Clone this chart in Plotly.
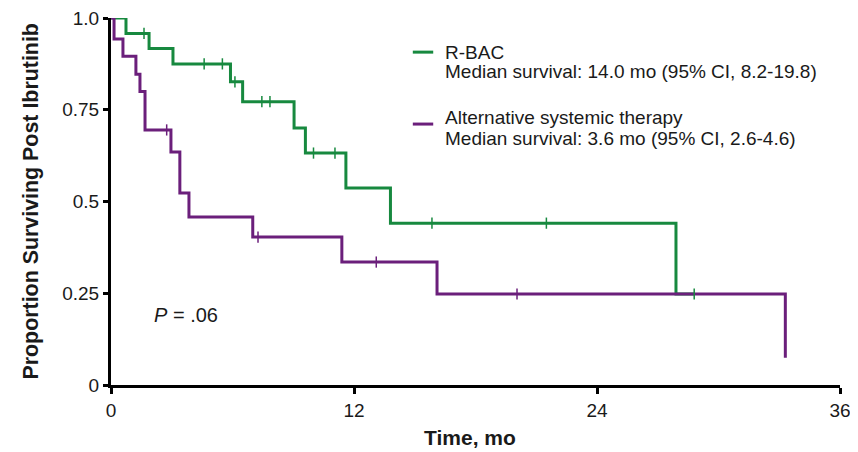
import numpy as np
import plotly.graph_objects as go

# ---- data ----
rbac_times = [0, 0.74, 1.88, 3.06, 5.9, 6.5, 9.04, 9.6, 11.6, 13.8, 27.9, 28.8]
rbac_surv = [1.0, 0.958, 0.917, 0.875, 0.826, 0.772, 0.70, 0.632, 0.537, 0.441, 0.248, 0.248]
rbac_censor = [1.63, 4.6, 5.5, 6.12, 7.45, 7.85, 10.0, 11.06, 15.85, 21.5, 28.8]

alt_times = [0, 0.15, 0.59, 1.23, 1.43, 1.68, 2.96, 3.4, 3.85, 7.0, 11.4, 16.1, 33.3]
alt_surv = [1.0, 0.943, 0.896, 0.847, 0.80, 0.695, 0.635, 0.523, 0.458, 0.403, 0.335, 0.248, 0.074]
alt_censor = [2.75, 7.26, 13.1, 20.05]

x_ticks = [0, 12, 24, 36]
y_ticks = [0, 0.25, 0.5, 0.75, 1.0]
y_ticklabels = ["0", "0.25", "0.5", "0.75", "1.0"]

rbac_label = ["R-BAC", "Median survival: 14.0 mo (95% CI, 8.2-19.8)"]
alt_label = ["Alternative systemic therapy", "Median survival: 3.6 mo (95% CI, 2.6-4.6)"]
x_title = "Time, mo"
y_title = "Proportion Surviving Post Ibrutinib"

GREEN = "#17893F"
PURPLE = "#6B1F7B"
TXT = "#1a1a1a"
FONT = "Liberation Sans, Arial, sans-serif"


def surv_at(times, surv, t):
    idx = np.searchsorted(np.array(times), np.array(t), side="right") - 1
    return list(np.array(surv)[idx])


fig = go.Figure()

# step curves
fig.add_trace(go.Scatter(x=rbac_times, y=rbac_surv, mode="lines", line_shape="hv",
                         line=dict(color=GREEN, width=3), cliponaxis=False, showlegend=False))
fig.add_trace(go.Scatter(x=alt_times, y=alt_surv, mode="lines", line_shape="hv",
                         line=dict(color=PURPLE, width=3), cliponaxis=False, showlegend=False))

# censor ticks
fig.add_trace(go.Scatter(x=rbac_censor, y=surv_at(rbac_times, rbac_surv, rbac_censor), mode="markers",
                         marker=dict(symbol="line-ns", size=8, line=dict(color=GREEN, width=1.5)),
                         cliponaxis=False, showlegend=False))
fig.add_trace(go.Scatter(x=alt_censor, y=surv_at(alt_times, alt_surv, alt_censor), mode="markers",
                         marker=dict(symbol="line-ns", size=8, line=dict(color=PURPLE, width=1.5)),
                         cliponaxis=False, showlegend=False))

# manual legend
sw_x0, sw_x1, tx = 0.414, 0.442, 0.456
legend_items = [(GREEN, 0.907, rbac_label, [0.907, 0.853]),
                (PURPLE, 0.711, alt_label, [0.730, 0.673])]
for color, sy, labels, ys in legend_items:
    fig.add_shape(type="line", xref="paper", yref="paper", x0=sw_x0, x1=sw_x1, y0=sy, y1=sy,
                  line=dict(color=color, width=3))
    for lab, yy in zip(labels, ys):
        fig.add_annotation(xref="paper", yref="paper", x=tx, y=yy, text=lab, showarrow=False,
                           xanchor="left", yanchor="middle",
                           font=dict(family=FONT, size=19, color=TXT))

fig.add_annotation(x=2.0, y=0.19, xref="x", yref="y", text="<i>P</i> = .06", showarrow=False,
                   xanchor="left", yanchor="middle", font=dict(family=FONT, size=20, color=TXT))

# axis titles
fig.add_annotation(xref="paper", yref="paper", x=0.493, y=-0.142, text="<b>" + x_title + "</b>",
                   showarrow=False, xanchor="center", yanchor="middle",
                   font=dict(family=FONT, size=21, color=TXT))
fig.add_annotation(xref="paper", yref="paper", x=-0.111, y=0.5, text="<b>" + y_title + "</b>",
                   showarrow=False, xanchor="center", yanchor="middle", textangle=-90,
                   font=dict(family=FONT, size=21.4, color=TXT))

fig.update_xaxes(range=[0, 36], tickvals=x_ticks, ticks="outside", ticklen=6, tickwidth=2.5,
                 tickcolor="black", showline=True, linecolor="black", linewidth=3,
                 showgrid=False, zeroline=False, automargin=False, ticklabeloverflow="allow",
                 tickfont=dict(family=FONT, size=19, color=TXT))
fig.update_yaxes(range=[0, 1.0], tickvals=y_ticks, ticktext=y_ticklabels, ticks="outside", ticklen=5,
                 tickwidth=2.5, tickcolor="black", showline=True, linecolor="black", linewidth=3,
                 showgrid=False, zeroline=False, automargin=False, ticklabeloverflow="allow",
                 tickfont=dict(family=FONT, size=19, color=TXT))

# the page body adds an 8px offset, so the figure is drawn 8px smaller with compensated margins
fig.update_layout(width=850, height=444, margin=dict(l=103, r=18, t=10, b=67),
                  plot_bgcolor="white", paper_bgcolor="white", showlegend=False)

fig.write_html("out.html")
